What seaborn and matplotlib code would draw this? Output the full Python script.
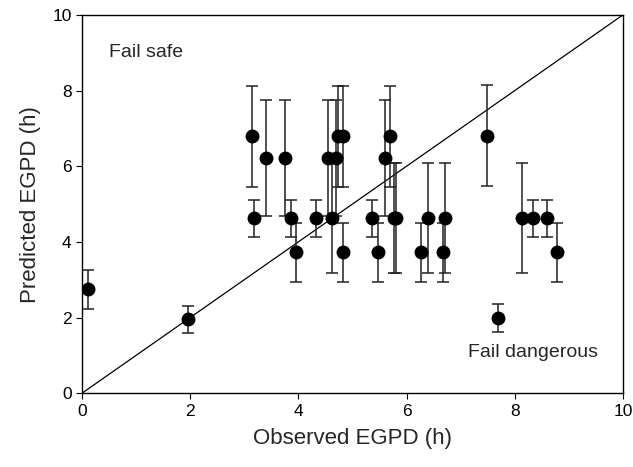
import matplotlib
matplotlib.use("Agg")
import matplotlib.pyplot as plt
import seaborn as sns
import numpy as np
import pandas as pd

observed = [0.12, 1.96, 7.69,
            3.15, 4.73, 4.82, 5.69, 7.48,
            3.41, 3.75, 4.55, 4.69, 5.60,
            3.18, 3.86, 4.33, 4.62, 5.36, 5.77, 5.80, 6.40, 6.71, 8.13, 8.34, 8.59,
            3.95, 4.82, 5.47, 6.26, 6.68, 8.78]
predicted = [2.75, 1.96, 1.98,
             6.80, 6.80, 6.80, 6.80, 6.80,
             6.22, 6.22, 6.22, 6.22, 6.22,
             4.63, 4.63, 4.63, 4.63, 4.63, 4.63, 4.63, 4.63, 4.63, 4.63, 4.63, 4.63,
             3.72, 3.72, 3.72, 3.72, 3.72, 3.72]
lower = [2.22, 1.60, 1.63,
         5.45, 5.45, 5.45, 5.45, 5.48,
         4.68, 4.68, 4.68, 4.68, 4.68,
         4.13, 4.13, 4.13, 3.17, 4.13, 3.17, 3.17, 3.17, 3.17, 3.17, 4.13, 4.13,
         2.93, 2.93, 2.93, 2.93, 2.93, 2.93]
upper = [3.25, 2.30, 2.35,
         8.12, 8.12, 8.12, 8.12, 8.15,
         7.75, 7.75, 7.75, 7.75, 7.75,
         5.10, 5.10, 5.10, 6.08, 5.10, 6.08, 6.08, 6.08, 6.08, 6.08, 5.10, 5.10,
         4.50, 4.50, 4.50, 4.50, 4.50, 4.50]
x_ticks = [0, 2, 4, 6, 8, 10]
y_ticks = [0, 2, 4, 6, 8, 10]

df = pd.DataFrame({"obs": observed, "pred": predicted, "lo": lower, "hi": upper})

sns.set_style("ticks")
plt.rcParams["font.family"] = ["Liberation Sans", "DejaVu Sans"]

fig = plt.figure(figsize=(6.33, 4.67), dpi=100)
ax = fig.add_axes([0.1295, 0.158, 0.8545, 0.810])

ax.plot([0, 10], [0, 10], color="black", lw=0.9, zorder=1)
yerr = np.vstack([df["pred"] - df["lo"], df["hi"] - df["pred"]])
ax.errorbar(df["obs"], df["pred"], yerr=yerr, fmt="none", ecolor="#222222",
            elinewidth=1.1, capsize=4, capthick=1.1, zorder=2)
sns.scatterplot(data=df, x="obs", y="pred", ax=ax, color="black", s=100,
                edgecolor="black", linewidth=0, zorder=3)

ax.set_xlim(0, 10)
ax.set_ylim(0, 10)
ax.set_xticks(x_ticks)
ax.set_yticks(y_ticks)
ax.tick_params(direction="out", length=4, width=0.8, labelsize=12.5, colors="black")
for s in ax.spines.values():
    s.set_visible(True)
    s.set_color("black")
    s.set_linewidth(1.0)

ax.set_xlabel("Observed EGPD (h)", fontsize=16, labelpad=7)
ax.set_ylabel("Predicted EGPD (h)", fontsize=16, labelpad=8)

ax.text(0.5, 9.0, "Fail safe", fontsize=14, va="center", ha="left")
ax.text(7.13, 1.08, "Fail dangerous", fontsize=14, va="center", ha="left")

fig.savefig("out.png", dpi=100)
